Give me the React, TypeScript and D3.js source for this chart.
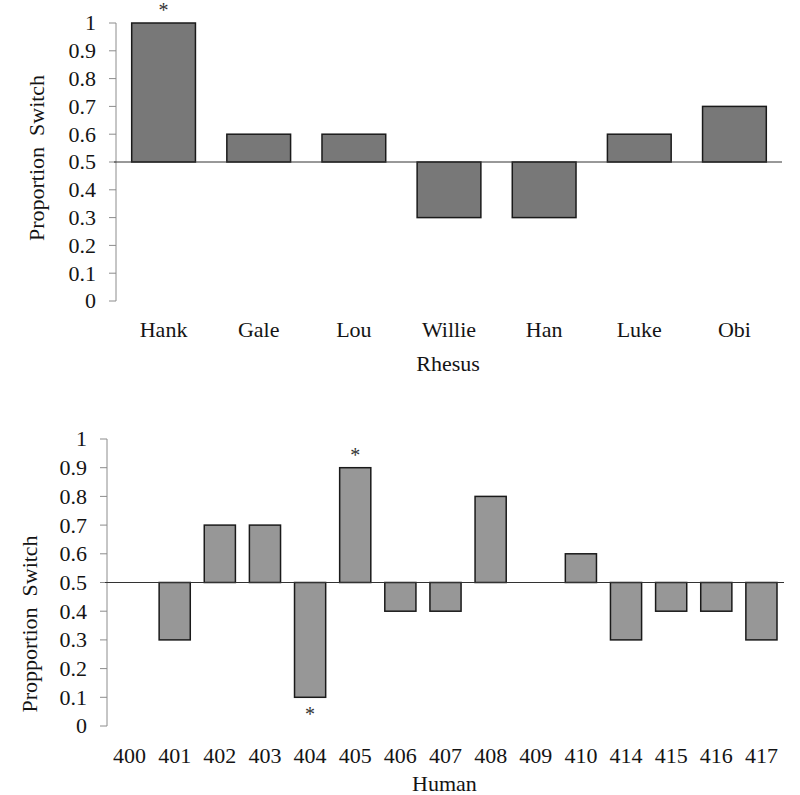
import React from 'react';
import * as d3 from 'd3';

const rhesusNames = ['Hank', 'Gale', 'Lou', 'Willie', 'Han', 'Luke', 'Obi'];
const rhesusValues = [1.0, 0.6, 0.6, 0.3, 0.3, 0.6, 0.7];
const rhesusStars = ['Hank'];

const humanIds = ['400', '401', '402', '403', '404', '405', '406', '407', '408', '409', '410', '414', '415', '416', '417'];
const humanValues = [0.5, 0.3, 0.7, 0.7, 0.1, 0.9, 0.4, 0.4, 0.8, 0.5, 0.6, 0.3, 0.4, 0.4, 0.3];
const humanStars = ['404', '405'];

const yTicks = [0, 0.1, 0.2, 0.3, 0.4, 0.5, 0.6, 0.7, 0.8, 0.9, 1];
const font = '"Liberation Serif", "Times New Roman", serif';

type PanelProps = {
  cats: string[];
  values: number[];
  stars: string[];
  x0: number; x1: number;
  yTop: number; yBottom: number;
  fill: string;
  pad: number;
  yLabel: string;
  xLabel: string;
  yLabelX: number; yLabelY: number;
  catY: number; xLabelY: number;
  tickGap: number;
};

function Panel(p: PanelProps) {
  const x = d3.scaleBand<string>().domain(p.cats).range([p.x0, p.x1]).paddingInner(p.pad).paddingOuter(p.pad / 2);
  const y = d3.scaleLinear().domain([0, 1]).range([p.yBottom, p.yTop]);
  const base = y(0.5);
  return (
    <g fontFamily={font} fill="#141414" fontSize={22}>
      {/* y axis */}
      <line x1={p.x0} x2={p.x0} y1={y(1)} y2={y(0)} stroke="#8c8c8c" strokeWidth={1} />
      {yTicks.map(t => (
        <g key={t}>
          <line x1={p.x0 - 7} x2={p.x0} y1={y(t)} y2={y(t)} stroke="#8c8c8c" strokeWidth={1} />
          <text x={p.x0 - p.tickGap} y={y(t)} dy="0.34em" textAnchor="end">{d3.format('~g')(t)}</text>
        </g>
      ))}
      {/* bars drawn from 0.5 */}
      {p.cats.map((c, i) => {
        const v = p.values[i];
        if (v === 0.5) return null;
        const top = y(Math.max(v, 0.5));
        const bot = y(Math.min(v, 0.5));
        return (
          <rect key={c} x={x(c)} y={top} width={x.bandwidth()} height={bot - top}
            fill={p.fill} stroke="#1a1a1a" strokeWidth={1.5} />
        );
      })}
      <line x1={p.x0 - 2} x2={p.x1} y1={base} y2={base} stroke="#333" strokeWidth={1} />
      {p.cats.map((c, i) => p.stars.includes(c) ? (
        <text key={'s' + c} x={(x(c) ?? 0) + x.bandwidth() / 2}
          y={p.values[i] >= 0.5 ? y(p.values[i]) - 6 : y(p.values[i]) + 24}
          textAnchor="middle" fontSize={20} fill="#333">*</text>
      ) : null)}
      {p.cats.map(c => (
        <text key={'l' + c} x={(x(c) ?? 0) + x.bandwidth() / 2} y={p.catY} textAnchor="middle">{c}</text>
      ))}
      <text x={(p.x0 + p.x1) / 2 - 1} y={p.xLabelY} textAnchor="middle">{p.xLabel}</text>
      <text transform={`translate(${p.yLabelX},${p.yLabelY}) rotate(-90)`} dy="0.34em" textAnchor="middle">{p.yLabel}</text>
    </g>
  );
}

export default function App() {
  return (
    <svg width={800} height={795} viewBox="0 0 800 795"
      style={{ position: 'absolute', left: 0, top: 0, background: '#fff' }}>
      <rect width={800} height={795} fill="#fff" />
      <Panel cats={rhesusNames} values={rhesusValues} stars={rhesusStars}
        x0={116} x1={782} yTop={23} yBottom={301} fill="#787878" pad={0.33}
        yLabel={'Proportion\u00a0 Switch'} xLabel="Rhesus" yLabelX={37} yLabelY={158}
        catY={337} xLabelY={371} tickGap={20} />
      <Panel cats={humanIds} values={humanValues} stars={humanStars}
        x0={107} x1={784} yTop={439} yBottom={726} fill="#979797" pad={0.31}
        yLabel={'Propportion\u00a0 Switch'} xLabel="Human" yLabelX={30} yLabelY={624}
        catY={763} xLabelY={791} tickGap={20} />
    </svg>
  );
}
